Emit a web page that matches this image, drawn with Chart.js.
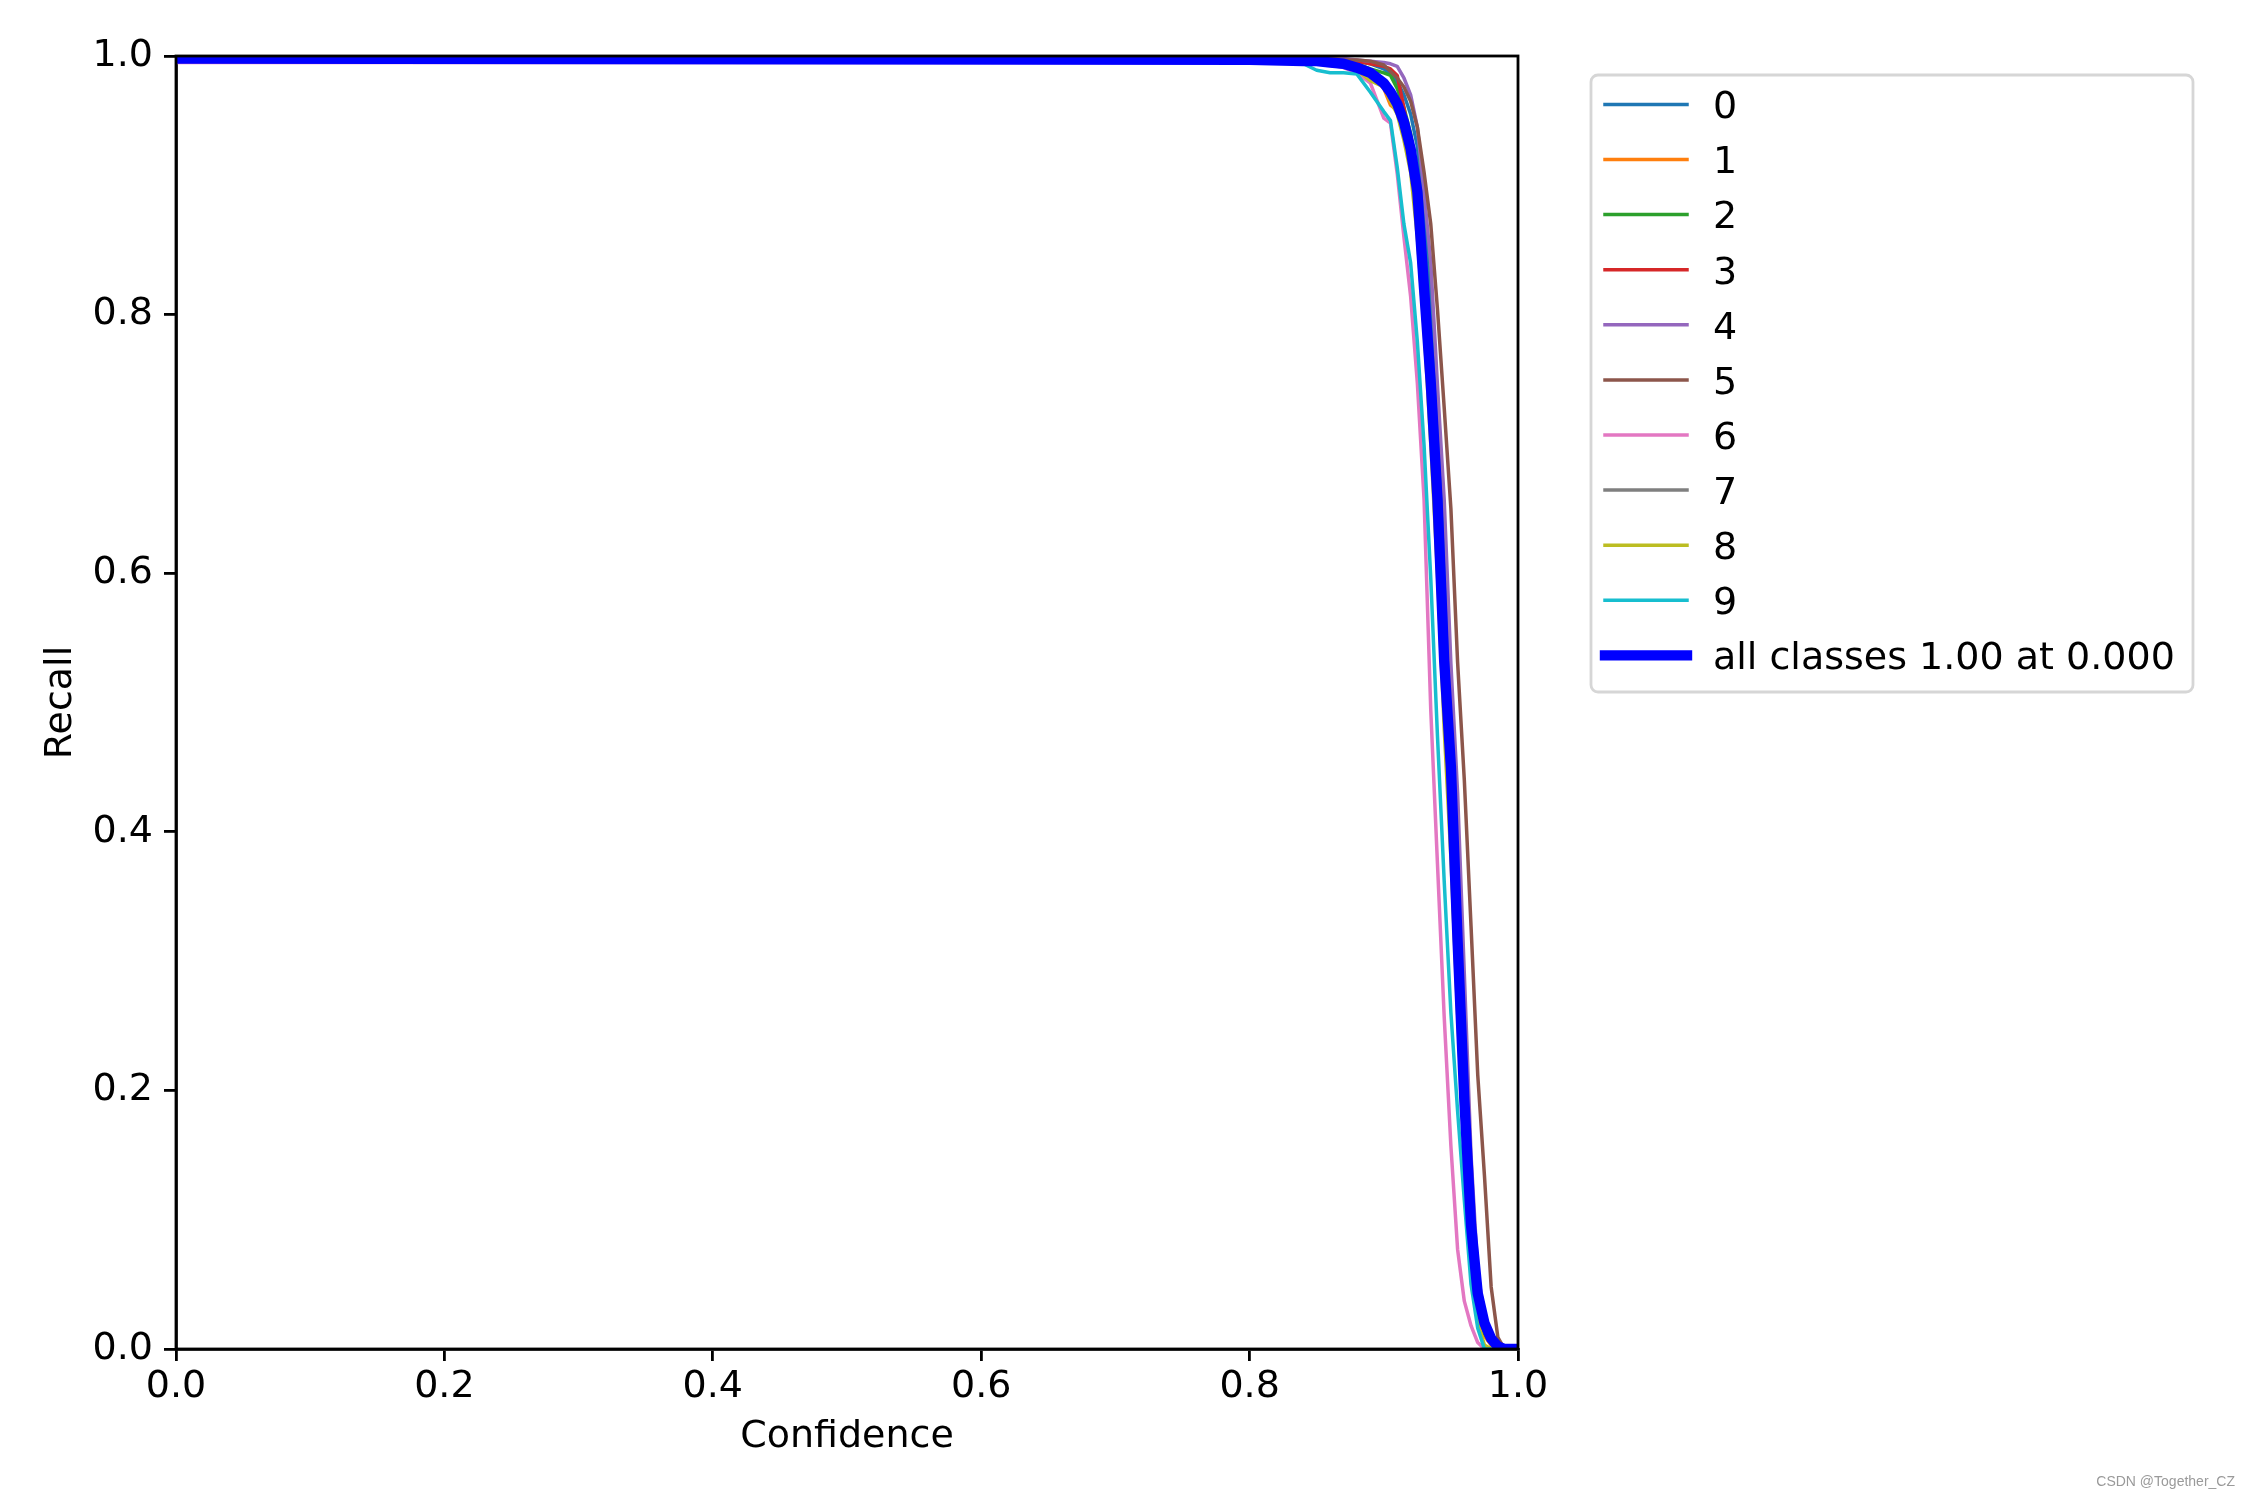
<!DOCTYPE html>
<html>
<head>
<meta charset="utf-8">
<script src="https://cdn.jsdelivr.net/npm/chart.js@4.4.1/dist/chart.umd.min.js"></script>
<style>
  html, body { margin: 0; padding: 0; background: #fff; }
  canvas { display: block; }
</style>
</head>
<body>
<canvas id="recall" width="2250" height="1500"></canvas>
<script>
const confidence = [0.0, 0.80, 0.84, 0.85, 0.86, 0.87, 0.88, 0.89, 0.90, 0.905, 0.91, 0.915, 0.92, 0.925, 0.93, 0.935, 0.94, 0.945, 0.95, 0.955, 0.96, 0.965, 0.97, 0.975, 0.98, 0.985, 0.99, 1.0];

const recall0 = [0.998, 0.998, 0.998, 0.998, 0.997, 0.997, 0.996, 0.994, 0.990, 0.986, 0.980, 0.970, 0.955, 0.930, 0.880, 0.810, 0.720, 0.610, 0.500, 0.370, 0.240, 0.120, 0.050, 0.020, 0.006, 0, 0, 0];
const recall1 = [0.998, 0.998, 0.997, 0.997, 0.996, 0.995, 0.992, 0.985, 0.975, 0.962, 0.958, 0.940, 0.915, 0.870, 0.800, 0.720, 0.620, 0.500, 0.400, 0.270, 0.160, 0.080, 0.030, 0.010, 0.003, 0, 0, 0];
const recall2 = [0.998, 0.998, 0.998, 0.997, 0.997, 0.996, 0.994, 0.990, 0.987, 0.985, 0.975, 0.960, 0.940, 0.905, 0.840, 0.760, 0.670, 0.550, 0.450, 0.320, 0.190, 0.090, 0.035, 0.012, 0.004, 0, 0, 0];
const recall3 = [0.998, 0.998, 0.998, 0.998, 0.998, 0.997, 0.996, 0.994, 0.992, 0.990, 0.985, 0.960, 0.930, 0.895, 0.830, 0.760, 0.670, 0.550, 0.460, 0.330, 0.200, 0.100, 0.045, 0.018, 0.006, 0.001, 0, 0];
const recall4 = [0.998, 0.998, 0.998, 0.998, 0.998, 0.998, 0.997, 0.996, 0.995, 0.994, 0.992, 0.983, 0.970, 0.945, 0.895, 0.840, 0.745, 0.657, 0.530, 0.430, 0.290, 0.150, 0.060, 0.025, 0.009, 0.002, 0, 0];
const recall5 = [0.998, 0.998, 0.998, 0.998, 0.998, 0.997, 0.997, 0.996, 0.993, 0.988, 0.983, 0.976, 0.965, 0.945, 0.910, 0.870, 0.804, 0.728, 0.650, 0.531, 0.440, 0.327, 0.212, 0.134, 0.048, 0.009, 0, 0];
const recall6 = [0.995, 0.995, 0.995, 0.994, 0.993, 0.991, 0.987, 0.979, 0.952, 0.948, 0.909, 0.860, 0.814, 0.747, 0.657, 0.494, 0.375, 0.257, 0.157, 0.077, 0.037, 0.018, 0.005, 0, 0, 0, 0, 0];
const recall7 = [0.998, 0.998, 0.998, 0.997, 0.997, 0.996, 0.993, 0.988, 0.980, 0.972, 0.962, 0.948, 0.925, 0.890, 0.820, 0.740, 0.650, 0.530, 0.440, 0.310, 0.185, 0.090, 0.040, 0.016, 0.005, 0, 0, 0];
const recall8 = [0.998, 0.998, 0.997, 0.996, 0.995, 0.993, 0.989, 0.981, 0.976, 0.965, 0.955, 0.935, 0.910, 0.860, 0.790, 0.700, 0.600, 0.480, 0.380, 0.260, 0.150, 0.060, 0.020, 0.003, 0, 0, 0, 0];
const recall9 = [0.996, 0.996, 0.994, 0.989, 0.987, 0.987, 0.986, 0.972, 0.957, 0.950, 0.914, 0.870, 0.840, 0.779, 0.699, 0.596, 0.474, 0.362, 0.260, 0.184, 0.115, 0.050, 0.016, 0, 0, 0, 0, 0];
const recallAll = [0.998, 0.997, 0.996, 0.996, 0.995, 0.994, 0.991, 0.987, 0.979, 0.972, 0.963, 0.949, 0.928, 0.895, 0.820, 0.747, 0.657, 0.532, 0.450, 0.315, 0.193, 0.096, 0.043, 0.020, 0.008, 0.002, 0, 0];

const classNames = ['0', '1', '2', '3', '4', '5', '6', '7', '8', '9'];
const allLabel = 'all classes 1.00 at 0.000';
const xTicks = [0.0, 0.2, 0.4, 0.6, 0.8, 1.0];
const yTicks = [0.0, 0.2, 0.4, 0.6, 0.8, 1.0];

const classColors = ['#1f77b4', '#ff7f0e', '#2ca02c', '#d62728', '#9467bd', '#8c564b', '#e377c2', '#7f7f7f', '#bcbd22', '#17becf'];
const classRecalls = [recall0, recall1, recall2, recall3, recall4, recall5, recall6, recall7, recall8, recall9];

const font = 'DejaVu Sans';
const fontSize = 38;

const points = (r) => confidence.map((c, i) => ({x: c, y: r[i]}));

const datasets = classRecalls.map((r, i) => ({
    label: classNames[i],
    data: points(r),
    borderColor: classColors[i],
    borderWidth: 3.5,
    order: 10 - i,
}));
datasets.push({
    label: allLabel,
    data: points(recallAll),
    borderColor: '#0000ff',
    borderWidth: 10.4,
    order: 0,
});

const framePlugin = {
    id: 'frame',
    afterDatasetsDraw(chart) {
        const {ctx, chartArea: a} = chart;
        ctx.save();
        ctx.strokeStyle = '#000';
        ctx.lineWidth = 2.8;
        ctx.strokeRect(a.left, a.top, a.right - a.left, a.bottom - a.top);
        ctx.restore();
    }
};

const legendPlugin = {
    id: 'boxLegend',
    afterDraw(chart) {
        const ctx = chart.ctx;
        ctx.save();
        ctx.fillStyle = 'rgba(255,255,255,0.8)';
        ctx.strokeStyle = '#d6d6d6';
        ctx.lineWidth = 2.8;
        ctx.beginPath();
        ctx.roundRect(1591, 75, 602, 617, 7);
        ctx.fill();
        ctx.stroke();

        ctx.font = `${fontSize}px "${font}"`;
        ctx.textBaseline = 'alphabetic';
        ctx.textAlign = 'left';
        chart.data.datasets.forEach((ds, i) => {
            const y = 104.4 + i * 55.1;
            ctx.strokeStyle = ds.borderColor;
            ctx.lineWidth = ds.borderWidth;
            ctx.lineCap = 'square';
            ctx.beginPath();
            ctx.moveTo(1605, y);
            ctx.lineTo(1687, y);
            ctx.stroke();
            ctx.fillStyle = '#000';
            ctx.fillText(ds.label, 1713, y + 13.8);
        });

        ctx.font = '14px "Liberation Sans"';
        ctx.fillStyle = '#9a9a9a';
        ctx.textAlign = 'right';
        ctx.textBaseline = 'middle';
        ctx.fillText('CSDN @Together_CZ', 2235, 1482);
        ctx.restore();
    }
};

const axis = (title, ticks, titlePadding, afterFit) => ({
    type: 'linear',
    min: 0,
    max: 1,
    afterFit: afterFit,
    afterBuildTicks: (s) => { s.ticks = ticks.map(v => ({value: v})); },
    border: {display: true, color: '#000', width: 2.8},
    grid: {drawOnChartArea: false, drawTicks: true, tickLength: 12, tickWidth: 2.8, tickColor: '#000', color: '#000', lineWidth: 2.8},
    ticks: {
        color: '#000',
        font: {family: font, size: fontSize},
        autoSkip: false,
        maxRotation: 0,
        callback: (v) => Number(v).toFixed(1),
    },
    title: {display: true, text: title, color: '#000', font: {family: font, size: fontSize}, padding: titlePadding},
});

const xAxis = axis('Confidence', xTicks, {top: 0, bottom: 40}, (s) => { s.height = 151; });
xAxis.ticks.padding = 3;
const yAxis = axis('Recall', yTicks, {top: 38, bottom: 0}, (s) => { s.width = 176; });
yAxis.ticks.padding = 11;

new Chart(document.getElementById('recall').getContext('2d'), {
    type: 'line',
    data: {datasets: datasets},
    options: {
        responsive: false,
        devicePixelRatio: 1,
        animation: false,
        layout: {padding: {left: 0, top: 56, right: 732, bottom: 0}},
        elements: {
            point: {radius: 0},
            line: {tension: 0, borderJoinStyle: 'round', borderCapStyle: 'butt'},
        },
        datasets: {line: {clip: 0, fill: false}},
        plugins: {legend: {display: false}, tooltip: {enabled: false}},
        scales: {x: xAxis, y: yAxis},
    },
    plugins: [framePlugin, legendPlugin],
});
</script>
</body>
</html>
